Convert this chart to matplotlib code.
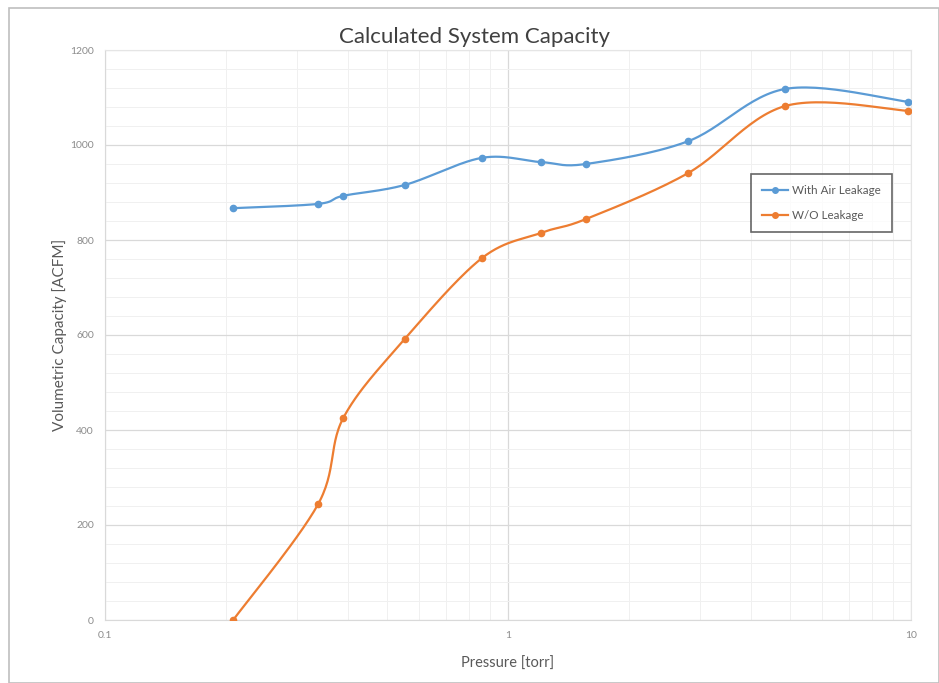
import numpy as np
import matplotlib
matplotlib.use("Agg")
import matplotlib.pyplot as plt
from matplotlib.ticker import FixedLocator, MultipleLocator, NullFormatter, FuncFormatter
from matplotlib.patches import Rectangle

pressure = [0.208, 0.338, 0.39, 0.555, 0.862, 1.208, 1.56, 2.80, 4.87, 9.83]
with_leak = [867, 876, 893, 916, 973, 964, 960, 1008, 1118, 1091]
without_leak = [0, 244, 425, 592, 762, 815, 844, 941, 1082, 1072]
series_names = ["With Air Leakage", "W/O Leakage"]
series_colors = ["#5B9BD5", "#ED7D31"]
title = "Calculated System Capacity"
xlabel = "Pressure [torr]"
ylabel = "Volumetric Capacity [ACFM]"

plt.rcParams['font.family'] = ['Lato', 'DejaVu Sans']


def smooth(xs, ys, n=30):
    # Excel-style smoothed line (Catmull-Rom / cubic Bezier) in log-x space
    lx = np.log10(np.asarray(xs, float))
    y = np.asarray(ys, float)
    sx, sy = 403.0, 0.475
    px, py = lx * sx, y * sy
    P = np.column_stack([px, py])
    out = []
    m = len(P)
    for i in range(m - 1):
        p0 = P[i - 1] if i > 0 else P[i]
        p1 = P[i]
        p2 = P[i + 1]
        p3 = P[i + 2] if i + 2 < m else P[i + 1]
        c1 = p1 + (p2 - p0) / 6.0
        c2 = p2 - (p3 - p1) / 6.0
        t = np.linspace(0, 1, n)[:, None]
        seg = ((1 - t) ** 3) * p1 + 3 * ((1 - t) ** 2) * t * c1 + 3 * (1 - t) * t ** 2 * c2 + t ** 3 * p2
        out.append(seg if i == 0 else seg[1:])
    out = np.vstack(out)
    return 10 ** (out[:, 0] / sx), out[:, 1] / sy


fig = plt.figure(figsize=(9.39, 6.83), dpi=100)
fig.patches.append(Rectangle((9 / 939, 0), 1 - 9 / 939, 1 - 8 / 683, transform=fig.transFigure,
                             fill=False, edgecolor="#BFBFBF", linewidth=1.2))
ax = fig.add_axes([105 / 939, 1 - 620 / 683, (911 - 105) / 939, (620 - 50) / 683])

for vals, name, col in zip([with_leak, without_leak], series_names, series_colors):
    sxv, syv = smooth(pressure, vals)
    ax.plot(sxv, syv, color=col, linewidth=1.6, zorder=3)
    ax.plot(pressure, vals, linestyle="none", marker="o", markersize=4.5, color=col, zorder=4)
    ax.plot([], [], color=col, marker="o", markersize=4, linewidth=1.6, label=name)

ax.set_xscale("log")
ax.set_xlim(0.1, 10)
ax.set_ylim(0, 1200)
ax.yaxis.set_major_locator(MultipleLocator(200))
ax.yaxis.set_minor_locator(MultipleLocator(40))
ax.xaxis.set_major_locator(FixedLocator([0.1, 1, 10]))
ax.xaxis.set_major_formatter(FuncFormatter(lambda v, p: f"{v:g}"))
ax.xaxis.set_minor_formatter(NullFormatter())

ax.grid(which="major", color="#D9D9D9", linewidth=0.9)
ax.grid(which="minor", color="#F0F0F0", linewidth=0.7)
ax.set_axisbelow(True)
for s in ["top", "right"]:
    ax.spines[s].set_color("#E5E5E5")
for s in ["left", "bottom"]:
    ax.spines[s].set_color("#D9D9D9")
ax.tick_params(which="both", length=0, colors="#8C8C8C", labelsize=7.5, pad=8)

fig.text(475 / 939, 1 - 37 / 683, title, fontsize=16, color="#404040", ha="center", va="center")
ax.set_xlabel(xlabel, fontsize=10.5, color="#595959", labelpad=12)
ax.set_ylabel(ylabel, fontsize=11, color="#595959", labelpad=2)

leg = ax.legend(loc="upper left", bbox_to_anchor=((745 - 105) / 806, 1 - (168 - 50) / 570),
                frameon=True, fancybox=False, fontsize=8.4, labelcolor="#595959",
                handlelength=2.2, borderpad=0.95, labelspacing=1.2, handletextpad=0.4)
leg.get_frame().set_edgecolor("#404040")
leg.get_frame().set_linewidth(1.2)

fig.savefig("out.png", dpi=100)
